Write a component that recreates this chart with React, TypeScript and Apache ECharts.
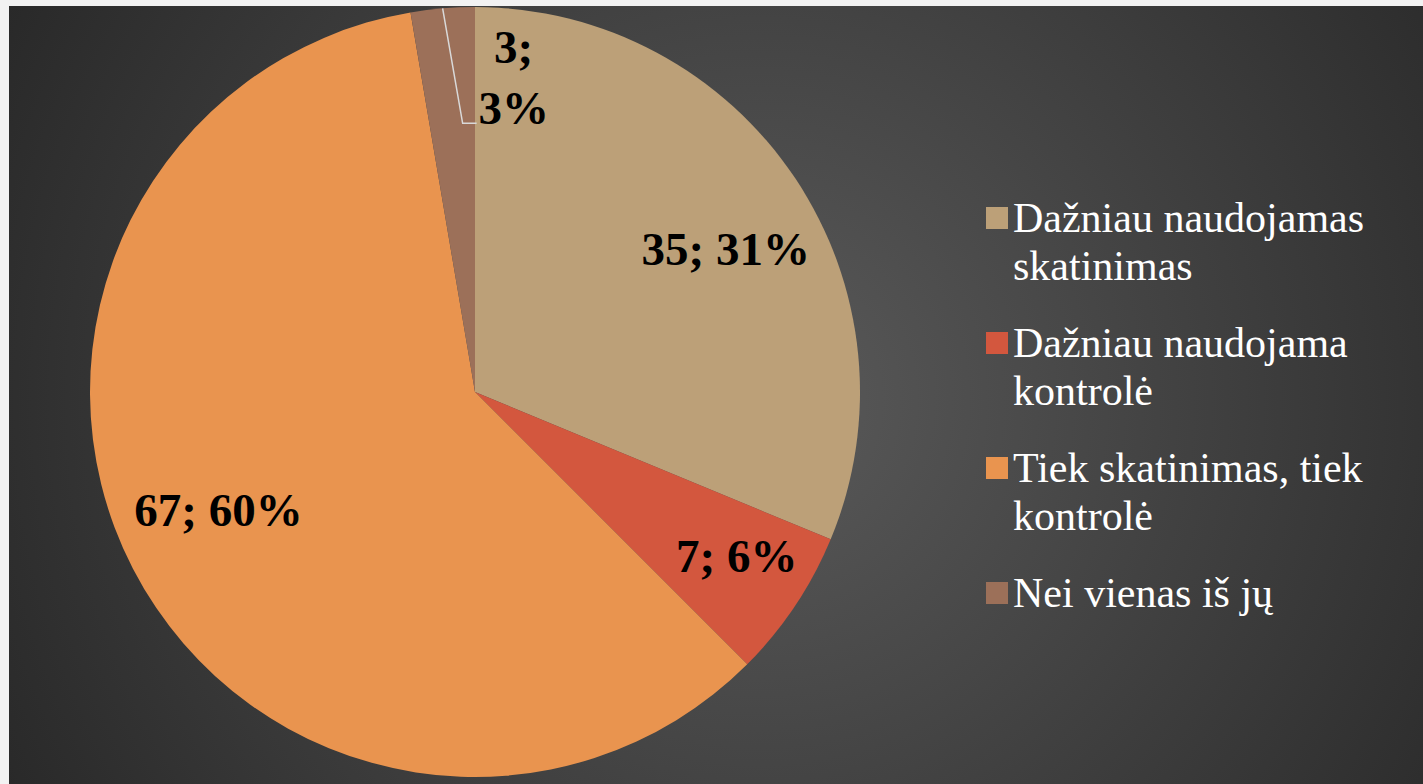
import React, { useEffect, useRef } from "react";
import * as echarts from "echarts";

const categories = [
  "Dažniau naudojamas skatinimas",
  "Dažniau naudojama kontrolė",
  "Tiek skatinimas, tiek kontrolė",
  "Nei vienas iš jų",
];
const legendLabels = [
  "Dažniau naudojamas\nskatinimas",
  "Dažniau naudojama\nkontrolė",
  "Tiek skatinimas, tiek\nkontrolė",
  "Nei vienas iš jų",
];
const values = [35, 7, 67, 3];
const colors = ["#bca078", "#d3573e", "#e9944f", "#9c7059"];

const SERIF = "'Liberation Serif', 'Times New Roman', serif";

export default function App() {
  const ref = useRef<HTMLDivElement>(null);
  useEffect(() => {
    document.body.style.margin = "0";
    const chart = echarts.init(ref.current!, undefined, { renderer: "svg" });
    const twoLineIcon = "path://M0 0h22v22h-22z M0 70L22 70";
    const oneLineIcon = "path://M0 24h22v22h-22z";
    const labelStyle = {
      color: "#000",
      fontFamily: SERIF,
      fontWeight: "bold" as const,
      fontSize: 47,
    };
    // small nudges of the inside labels (px)
    const nudges = [
      [5, 21],
      [16, 0],
      [6, -18],
    ];
    chart.setOption({
      animation: false,
      backgroundColor: "#f2f2f2",
      graphic: [
        {
          type: "rect",
          z: -10,
          shape: { x: 9, y: 6, width: 1414, height: 778 },
          style: {
            fill: {
              type: "radial",
              x: 760,
              y: 400,
              r: 900,
              global: true,
              colorStops: [
                { offset: 0, color: "#5a5a5a" },
                { offset: 0.5, color: "#404040" },
                { offset: 1, color: "#262626" },
              ],
            },
          },
        },
      ],
      legend: {
        orient: "vertical",
        left: 981,
        top: 189,
        itemGap: 29,
        itemWidth: 22,
        itemHeight: 70,
        data: categories.map((c, i) => ({
          name: c,
          icon: legendLabels[i].includes("\n") ? twoLineIcon : oneLineIcon,
        })),
        formatter: (name: string) => legendLabels[categories.indexOf(name)],
        textStyle: {
          color: "#ffffff",
          fontFamily: SERIF,
          fontSize: 42,
          lineHeight: 48,
        },
        selectedMode: false,
      },
      series: [
        {
          type: "pie",
          z: 2,
          center: [475, 392],
          radius: [0, 385],
          startAngle: 90,
          clockwise: true,
          avoidLabelOverlap: false,
          percentPrecision: 0,
          itemStyle: { borderWidth: 0 },
          emphasis: { disabled: true },
          label: { show: false },
          labelLine: { show: false },
          data: values.map((v, i) => ({
            name: categories[i],
            value: v,
            itemStyle: { color: colors[i] },
          })),
        },
        {
          type: "pie",
          z: 3,
          center: [475, 392],
          radius: [200, 385],
          startAngle: 90,
          clockwise: true,
          silent: true,
          legendHoverLink: false,
          avoidLabelOverlap: false,
          percentPrecision: 0,
          emphasis: { disabled: true },
          itemStyle: { color: "rgba(0,0,0,0)", borderWidth: 0 },
          labelLine: { show: false },
          label: {
            show: true,
            position: "inside",
            formatter: "{c}; {d}%",
            ...labelStyle,
          },
          data: values.map((v, i) => ({
            name: categories[i],
            value: v,
            label:
              i === 3
                ? {
                    show: true,
                    position: "outside",
                    formatter: "{c};\n{d}%",
                    lineHeight: 61,
                    align: "center",
                    ...labelStyle,
                  }
                : { show: true },
            labelLine:
              i === 3
                ? {
                    show: true,
                    showAbove: true,
                    length: 10,
                    length2: 10,
                    lineStyle: { color: "#d9d9d9", width: 1.5 },
                  }
                : { show: false },
          })),
          labelLayout: (params: any) => {
            if (params.dataIndex !== 3) {
              const n = nudges[params.dataIndex];
              return n ? { dx: n[0], dy: n[1] } : {};
            }
            const pts = params.labelLinePoints;
            if (!pts || !pts[0]) return {};
            const [x0, y0] = pts[0];
            return {
              x: x0 + 71,
              y: y0 + 69,
              align: "center",
              verticalAlign: "middle",
              labelLinePoints: [
                [x0, y0],
                [x0 + 20, y0 + 115],
                [x0 + 34, y0 + 115],
              ],
            };
          },
        },
      ],
    });
    return () => chart.dispose();
  }, []);
  return <div ref={ref} style={{ width: 1423, height: 784 }} />;
}
